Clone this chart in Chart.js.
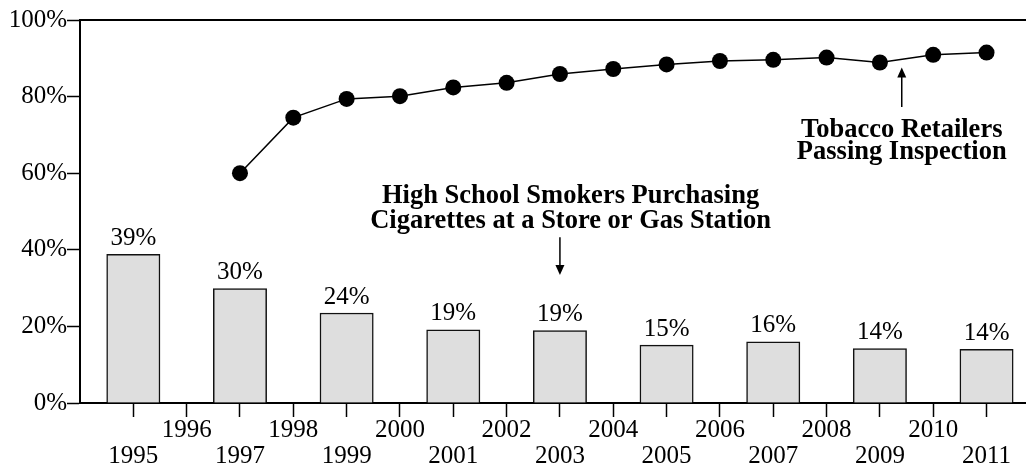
<!DOCTYPE html>
<html>
<head>
<meta charset="utf-8">
<script src="https://cdn.jsdelivr.net/npm/chart.js@4.4.1/dist/chart.umd.min.js"></script>
<style>
  body { margin: 0; background: #fff; }
  #wrap { width: 1026px; height: 464px; }
</style>
</head>
<body>
<div id="wrap"><canvas id="grafico"></canvas></div>
<script>
// tick years on the x axis
const years = [1995, 1996, 1997, 1998, 1999, 2000, 2001, 2002, 2003, 2004, 2005, 2006, 2007, 2008, 2009, 2010, 2011];

// high school smokers buying at a store (bars)
const barYears = [1995, 1997, 1999, 2001, 2003, 2005, 2007, 2009, 2011];
const barValues = [38.8, 29.9, 23.5, 19.1, 18.9, 15.1, 16.0, 14.2, 14.0];
const barLabels = ['39%', '30%', '24%', '19%', '19%', '15%', '16%', '14%', '14%'];

// retailers passing inspection (line)
const lineYears = [1997, 1998, 1999, 2000, 2001, 2002, 2003, 2004, 2005, 2006, 2007, 2008, 2009, 2010, 2011];
const lineValues = [60.0, 74.5, 79.4, 80.1, 82.4, 83.6, 85.9, 87.2, 88.4, 89.3, 89.6, 90.2, 88.9, 90.9, 91.5];

const yTicks = [0, 20, 40, 60, 80, 100];

const SERIF = '"Liberation Serif", "Times New Roman", serif';

// annotation texts, placed in data units
const notas = [
  { lines: ['High School Smokers Purchasing', 'Cigarettes at a Store or Gas Station'], x: 2003.2, y: [52.2, 45.8] },
  { lines: ['Tobacco Retailers', 'Passing Inspection'], x: 2009.41, y: [69.5, 63.6] }
];
const flechas = [
  { x: 2003, from: 43.3, to: 33.4 },
  { x: 2009.41, from: 77.3, to: 87.6 }
];

const extras = {
  id: 'extras',
  afterDatasetsDraw(chart) {
    const ctx = chart.ctx;
    const xs = chart.scales.x, ys = chart.scales.y;
    const area = chart.chartArea;
    ctx.save();
    // top frame line
    ctx.strokeStyle = '#000';
    ctx.lineWidth = 2;
    ctx.beginPath();
    ctx.moveTo(area.left, area.top);
    ctx.lineTo(area.right, area.top);
    ctx.stroke();

    // bar value labels
    ctx.fillStyle = '#000';
    ctx.font = '25px ' + SERIF;
    ctx.textAlign = 'center';
    ctx.textBaseline = 'middle';
    chart.getDatasetMeta(0).data.forEach((bar, i) => {
      ctx.fillText(barLabels[i], bar.x, bar.y - 16);
    });

    // annotations
    ctx.font = 'bold 26.5px ' + SERIF;
    ctx.textBaseline = 'alphabetic';
    notas.forEach(n => {
      n.lines.forEach((t, i) => {
        ctx.fillText(t, xs.getPixelForValue(n.x), ys.getPixelForValue(n.y[i]));
      });
    });

    flechas.forEach(f => {
      const x = xs.getPixelForValue(f.x);
      const y0 = ys.getPixelForValue(f.from);
      const y1 = ys.getPixelForValue(f.to);
      const dir = y1 > y0 ? 1 : -1;
      ctx.lineWidth = 1.5;
      ctx.beginPath();
      ctx.moveTo(x, y0);
      ctx.lineTo(x, y1 - dir * 9);
      ctx.stroke();
      ctx.beginPath();
      ctx.moveTo(x, y1);
      ctx.lineTo(x - 4.5, y1 - dir * 10);
      ctx.lineTo(x + 4.5, y1 - dir * 10);
      ctx.closePath();
      ctx.fill();
    });
    ctx.restore();
  }
};

new Chart(document.getElementById('grafico'), {
  type: 'bar',
  data: {
    datasets: [
      {
        type: 'bar',
        label: 'High School Smokers',
        data: barYears.map((y, i) => ({ x: y, y: barValues[i] })),
        backgroundColor: '#dedede',
        borderColor: '#111',
        borderWidth: 1.5,
        categoryPercentage: 1,
        barPercentage: 1,
        order: 2
      },
      {
        type: 'line',
        label: 'Tobacco Retailers',
        data: lineYears.map((y, i) => ({ x: y, y: lineValues[i] })),
        borderColor: '#000',
        backgroundColor: '#000',
        borderWidth: 1.5,
        pointRadius: 8,
        pointBackgroundColor: '#000',
        pointBorderWidth: 0,
        fill: false,
        clip: false,
        order: 1
      }
    ]
  },
  options: {
    responsive: true,
    maintainAspectRatio: false,
    animation: false,
    layout: { autoPadding: false, padding: { top: 20, left: 0, right: 0, bottom: 0 } },
    plugins: {
      legend: { display: false },
      tooltip: { enabled: false }
    },
    scales: {
      x: {
        type: 'linear',
        min: 1994,
        max: 2011.74,
        offset: false,
        afterBuildTicks: s => { s.ticks = years.map(v => ({ value: v })); },
        afterFit: s => { s.height = 61; s.paddingLeft = 0; s.paddingRight = 0; },
        border: { display: true, color: '#000', width: 2 },
        grid: { offset: false, drawOnChartArea: false, drawTicks: true, tickLength: 14, tickColor: '#000', tickWidth: 1.5 },
        ticks: {
          autoSkip: false,
          maxRotation: 0,
          padding: 0.5,
          color: '#000',
          font: { family: SERIF, size: 25, lineHeight: 1.03 },
          callback: v => (v % 2 === 0 ? [String(v)] : ['', String(v)])
        }
      },
      y: {
        min: 0,
        max: 100,
        afterBuildTicks: s => { s.ticks = yTicks.map(v => ({ value: v })); },
        afterFit: s => { s.width = 80; },
        border: { display: true, color: '#000', width: 2 },
        grid: { drawOnChartArea: false, drawTicks: true, tickLength: 13, tickColor: '#000', tickWidth: 1.5 },
        ticks: {
          padding: 0,
          color: '#000',
          font: { family: SERIF, size: 25 },
          callback: v => v + '%'
        }
      }
    }
  },
  plugins: [extras]
});
</script>
</body>
</html>
